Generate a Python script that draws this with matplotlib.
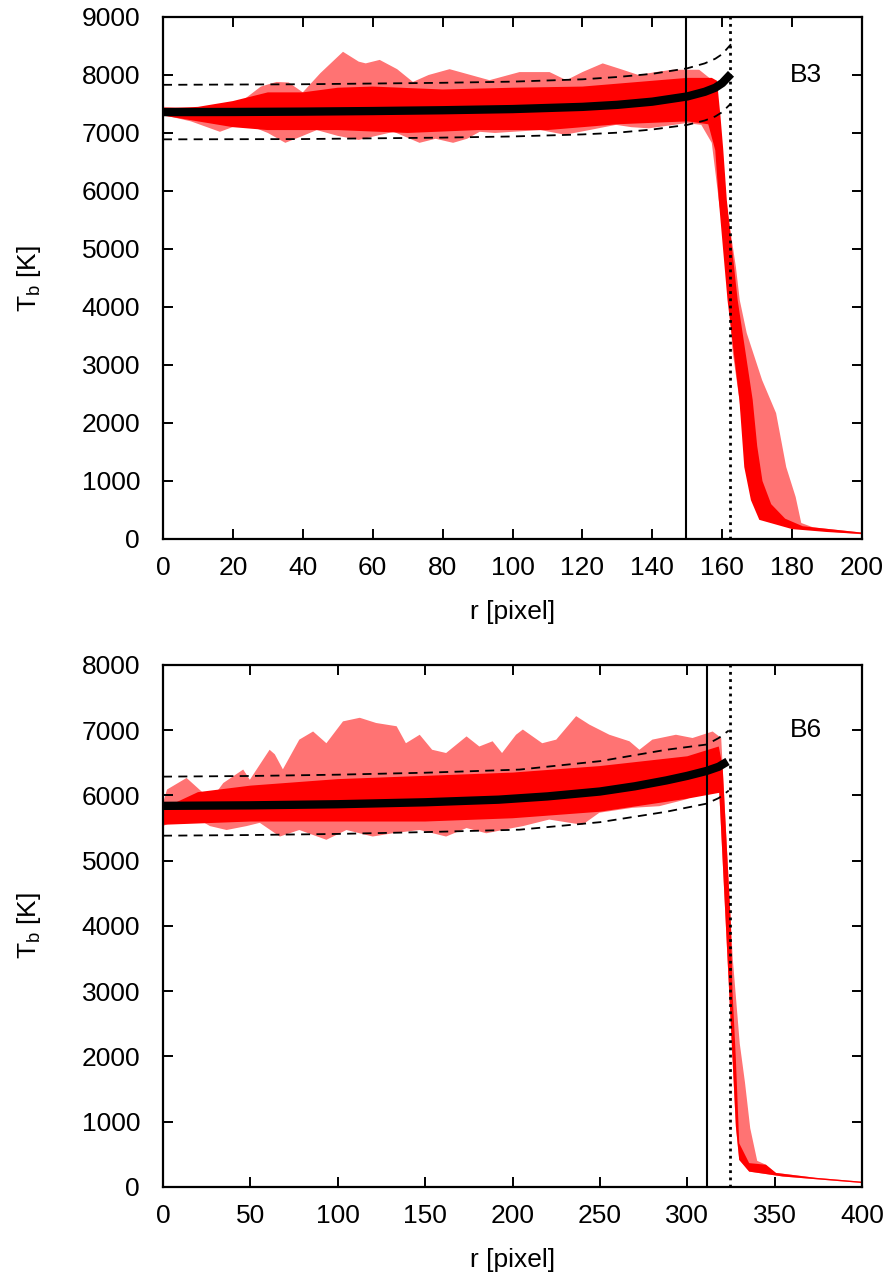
import matplotlib
matplotlib.use("Agg")
import matplotlib.pyplot as plt
import numpy as np

plt.rcParams['font.family'] = ['Liberation Sans', 'DejaVu Sans']
plt.rcParams['mathtext.fontset'] = 'custom'
plt.rcParams['mathtext.rm'] = 'Liberation Sans'
plt.rcParams['mathtext.it'] = 'Liberation Sans'

# ---------------- B3 ----------------
# fit (thick black)
b3_fit_r = [0, 20, 40, 60, 80, 100, 120, 130, 140, 150, 155, 158, 160, 162.5]
b3_fit_T = [7360, 7362, 7368, 7378, 7392, 7412, 7450, 7485, 7540, 7630, 7710, 7780, 7860, 8020]
# dashed envelope
b3_dash_r = [0, 40, 80, 100, 120, 130, 140, 150, 155, 158, 160, 162.5]
b3_dash_hi = [7830, 7840, 7865, 7885, 7925, 7965, 8020, 8115, 8200, 8280, 8360, 8530]
b3_dash_lo = [6890, 6895, 6920, 6940, 6975, 7005, 7060, 7140, 7215, 7285, 7360, 7510]
# outer (sparse) envelope of the profiles
b3_out_up_r = [0, 10, 19, 23, 28, 32.5, 36, 40, 45, 51.5, 56, 58, 62, 67, 71.5, 76, 82, 88, 93.4,
               102, 110.6, 115.4, 120, 125.8, 131, 136, 141, 145.7, 153.4, 156.3, 157.5, 158.3,
               161, 163.9, 165, 167, 171.4, 175.4, 178.3, 181, 182.6, 186, 200]
b3_out_up_T = [7450, 7430, 7420, 7570, 7800, 7880, 7870, 7700, 8030, 8400, 8230, 8200, 8260, 8100,
               7880, 8000, 8100, 8000, 7910, 8050, 8050, 7910, 8050, 8200, 8100, 8000, 8050, 8090,
               8090, 7950, 7600, 6900, 5845, 4690, 4120, 3550, 2740, 2170, 1240, 724, 276, 200, 110]
b3_out_lo_r = [0, 8, 16.3, 23, 30, 35, 40, 44, 50, 56, 61, 66, 73.4, 78, 83, 87, 90.6, 95, 100,
               108, 115, 122, 129.6, 134, 139, 145, 149.7, 154, 157, 159, 161, 162, 162.9, 164.9,
               166.8, 168.7, 172.5, 180, 190, 200]
b3_out_lo_T = [7310, 7200, 7020, 7170, 7000, 6830, 6950, 7050, 6950, 6880, 6950, 7020, 6830, 6900,
               6830, 6900, 7020, 7000, 7020, 7050, 6970, 7050, 7140, 7100, 7080, 7130, 7170, 7140,
               6830, 5845, 4980, 4120, 3260, 2400, 1530, 670, 330, 190, 130, 80]
# dense core of the profiles
b3_core_up_r = [0, 10, 20, 30, 40, 50, 60, 80, 100, 120, 140, 150, 157, 158.5, 159.5, 160.3,
                161.3, 164.4, 168.7, 170, 171.5, 174, 178, 183, 200]
b3_core_up_T = [7420, 7450, 7550, 7700, 7700, 7780, 7800, 7750, 7780, 7800, 7900, 7950, 7950,
                7900, 7280, 6700, 5845, 4120, 2400, 1600, 1000, 600, 350, 220, 110]
b3_core_lo_r = [0, 10, 20, 30, 50, 70, 90, 110, 130, 150, 156, 158, 159, 161.5, 164.9, 166.3,
                168.2, 170.6, 180, 190, 200]
b3_core_lo_T = [7300, 7200, 7100, 7050, 7050, 7000, 7050, 7050, 7150, 7200, 7150, 6700, 5845,
                4120, 2400, 1240, 670, 330, 170, 120, 85]
b3_limb_r = 149.6
b3_edge_r = 162.3

# ---------------- B6 ----------------
b6_fit_r = [0, 50, 100, 150, 192, 220, 250, 270, 288, 300, 311, 318, 323]
b6_fit_T = [5840, 5848, 5865, 5895, 5935, 5985, 6060, 6140, 6230, 6300, 6375, 6440, 6520]
b6_dash_r = [0, 50, 100, 150, 204, 250, 288, 311, 318, 323.7]
b6_dash_hi = [6288, 6298, 6318, 6348, 6396, 6525, 6700, 6780, 6880, 6994]
b6_dash_lo = [5383, 5393, 5410, 5438, 5475, 5590, 5750, 5874, 5960, 6074]
b6_out_up_r = [0, 2.3, 13.5, 23, 29, 34.5, 45.9, 49.7, 61, 64, 68.6, 78, 85.9, 93.5, 103, 112.6,
               122, 133.7, 139, 146.9, 154, 162, 173.7, 181, 188.6, 194, 202, 205.9, 217, 225,
               236.4, 244, 255.4, 266.9, 272.6, 280, 293.5, 303, 314.5, 319.4, 321, 323, 325,
               326, 330, 333, 336, 340, 345, 350.7, 373.5, 400]
b6_out_up_T = [5880, 6090, 6268, 6038, 5990, 6190, 6397, 6240, 6700, 6630, 6400, 6855, 6980, 6800,
               7135, 7190, 7110, 7060, 6800, 6930, 6700, 6650, 6905, 6750, 6830, 6650, 6930, 7010,
               6800, 6855, 7215, 7085, 6930, 6830, 6700, 6855, 6930, 6880, 6980, 6880, 6040, 5015,
               3990, 3500, 2200, 1600, 900, 400, 340, 215, 140, 80]
b6_out_lo_r = [0, 4, 17.3, 26.9, 36.4, 47.8, 55.4, 66.9, 78, 93.5, 105, 120, 131.4, 146.9, 162,
               173.7, 185, 200, 206, 221, 240, 249.7, 268.6, 284, 299.4, 306.9, 314.5, 318.3,
               320.2, 322.1, 324, 325.9, 327.8, 329.7, 335.4, 354.6, 400]
b6_out_lo_T = [5530, 5580, 5680, 5530, 5470, 5530, 5580, 5370, 5470, 5320, 5470, 5370, 5420, 5470,
               5370, 5500, 5420, 5500, 5530, 5630, 5550, 5735, 5810, 5835, 5940, 6040, 6040, 6040,
               5015, 3990, 2970, 1950, 925, 415, 235, 160, 60]
b6_core_up_r = [0, 20, 50, 100, 150, 200, 250, 300, 318, 320.2, 321, 323, 325, 325.9, 327.8,
                329.7, 335.4, 345, 350.7, 373.5, 400]
b6_core_up_T = [5800, 6050, 6150, 6250, 6300, 6350, 6450, 6600, 6750, 6447, 6040, 5015, 3990,
                2970, 1950, 670, 365, 340, 215, 140, 80]
b6_core_lo_r = [0, 50, 100, 150, 200, 250, 300, 318.3, 320.2, 322.1, 324, 325.9, 327.8, 329.7,
                335.4, 354.6, 400]
b6_core_lo_T = [5550, 5600, 5600, 5600, 5650, 5750, 5950, 6040, 5015, 3990, 2970, 1950, 925, 415,
                235, 160, 60]
b6_limb_r = 311
b6_edge_r = 324.4

panels = [
    dict(name='B3', fit=(b3_fit_r, b3_fit_T), dash=(b3_dash_r, b3_dash_hi, b3_dash_lo),
         out=(b3_out_up_r, b3_out_up_T, b3_out_lo_r, b3_out_lo_T),
         core=(b3_core_up_r, b3_core_up_T, b3_core_lo_r, b3_core_lo_T),
         limb=b3_limb_r, edge=b3_edge_r, xmax=200, xstep=20, ymax=9000, label_xy=(184, 8000)),
    dict(name='B6', fit=(b6_fit_r, b6_fit_T), dash=(b6_dash_r, b6_dash_hi, b6_dash_lo),
         out=(b6_out_up_r, b6_out_up_T, b6_out_lo_r, b6_out_lo_T),
         core=(b6_core_up_r, b6_core_up_T, b6_core_lo_r, b6_core_lo_T),
         limb=b6_limb_r, edge=b6_edge_r, xmax=400, xstep=50, ymax=8000, label_xy=(368, 7000)),
]

fig = plt.figure(figsize=(8.94, 12.76), dpi=100)
boxes = [[0.1823, 0.5776, 0.782, 0.4091], [0.1823, 0.0698, 0.782, 0.4091]]

for p, box in zip(panels, boxes):
    ax = fig.add_axes(box)
    ru, tu, rl, tl = p['out']
    ax.fill(np.concatenate([ru, rl[::-1]]), np.concatenate([tu, tl[::-1]]),
            color='red', alpha=0.55, lw=0, zorder=1)
    ru, tu, rl, tl = p['core']
    ax.fill(np.concatenate([ru, rl[::-1]]), np.concatenate([tu, tl[::-1]]),
            color='red', lw=0, zorder=2)
    dr, dh, dl = p['dash']
    ax.plot(dr, dh, color='black', lw=1.3, ls=(0, (5, 3.5)), zorder=3)
    ax.plot(dr, dl, color='black', lw=1.3, ls=(0, (5, 3.5)), zorder=3)
    ax.plot(*p['fit'], color='black', lw=6, solid_capstyle='butt', zorder=4)
    ax.axvline(p['limb'], color='black', lw=1.5, zorder=5)
    ax.axvline(p['edge'], color='black', lw=2, ls=(0, (1, 1.6)), zorder=5)
    ax.text(*p['label_xy'], p['name'], fontsize=19, ha='center', va='center')

    ax.set_xlim(0, p['xmax'])
    ax.set_ylim(0, p['ymax'])
    ax.set_xticks(np.arange(0, p['xmax'] + 1, p['xstep']))
    ax.set_yticks(np.arange(0, p['ymax'] + 1, 1000))
    ax.tick_params(direction='in', length=7, width=1.4, top=True, right=True,
                   labelsize=19)
    ax.tick_params(axis='x', pad=12.5)
    ax.tick_params(axis='y', pad=16.5)
    for s in ax.spines.values():
        s.set_linewidth(1.6)
    ax.set_xlabel('r [pixel]', fontsize=19, labelpad=14)
    ax.set_ylabel(r'T$_{\rm b}$ [K]', fontsize=19, labelpad=28)

fig.savefig('out.png', dpi=100)
